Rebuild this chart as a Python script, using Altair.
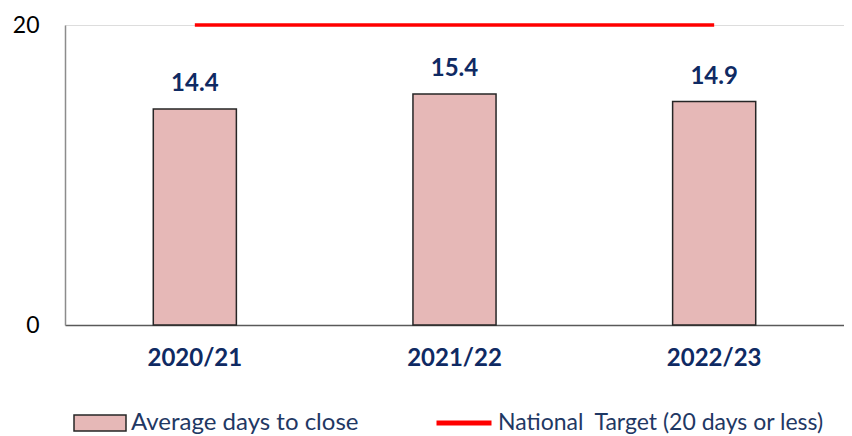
import altair as alt
import pandas as pd

years = ["2020/21", "2021/22", "2022/23"]
avg_days = [14.4, 15.4, 14.9]
target = [20, 20, 20]
bar_series = "Average days to close"
line_series = "National\u00a0 Target (20 days or less)"

df = pd.DataFrame({"year": years, "days": avg_days, "target": target,
                   "s1": [bar_series] * 3, "s2": [line_series] * 3})

FONT = "Lato"
NAVY = "#0F2A63"
LEGEND_NAVY = "#1F3864"

x = alt.X("year:N", sort=years, title=None,
          scale=alt.Scale(paddingInner=0.68, paddingOuter=0.34),
          axis=alt.Axis(labelAngle=0, ticks=False, labelFontSize=24, labelFontWeight="bold",
                        labelColor=NAVY, labelPadding=21, domainColor="#595959", domainWidth=1.5,
                        labelFont=FONT))

base = alt.Chart(df)

bars = base.mark_bar(stroke="#262626", strokeWidth=1.5).encode(
    x=x,
    y=alt.Y("days:Q", title=None, scale=alt.Scale(domain=[0, 20], nice=False),
            axis=alt.Axis(values=[0, 20], ticks=False, grid=False, labelFontSize=23,
                          labelColor="#000000", labelPadding=26, domainColor="#8C8C8C",
                          domainWidth=1.5, labelFont=FONT)),
    fill=alt.Fill("s1:N", title=None,
                  scale=alt.Scale(domain=[bar_series], range=["#E6B8B7"]),
                  legend=alt.Legend(orient="none", legendX=8, legendY=371,
                                    symbolType="M-1,-0.31H1V0.31H-1Z", symbolSize=2704,
                                    symbolStrokeColor="#262626", symbolStrokeWidth=1.5,
                                    labelFontSize=24, labelColor=LEGEND_NAVY, labelFont=FONT,
                                    labelOffset=4, labelLimit=400)),
)

labels = base.mark_text(baseline="bottom", dy=-13, fontSize=24, fontWeight="bold",
                        color=NAVY, font=FONT).encode(
    x=alt.X("year:N", sort=years),
    y=alt.Y("days:Q"),
    text=alt.Text("days:Q", format=".1f"),
)

line = base.mark_line(strokeWidth=3.5).encode(
    x=alt.X("year:N", sort=years),
    y=alt.Y("target:Q"),
    stroke=alt.Stroke("s2:N", title=None,
                      scale=alt.Scale(domain=[line_series], range=["#FF0000"]),
                      legend=alt.Legend(orient="none", legendX=369, legendY=368,
                                        symbolType="stroke", symbolSize=3025,
                                        symbolStrokeWidth=5,
                                        labelFontSize=23, labelColor=LEGEND_NAVY, labelFont=FONT,
                                        labelOffset=4, labelLimit=500)),
)

chart = alt.layer(bars, line, labels).resolve_scale(fill="independent", stroke="independent").properties(
    width=779, height=300,
    padding={"left": 57, "top": 17, "right": 0, "bottom": 110},
    autosize=alt.AutoSizeParams(type="none"),
).configure_view(stroke=None).configure(font=FONT)

chart.save("out.html", embed_options={"renderer": "svg", "actions": False})
